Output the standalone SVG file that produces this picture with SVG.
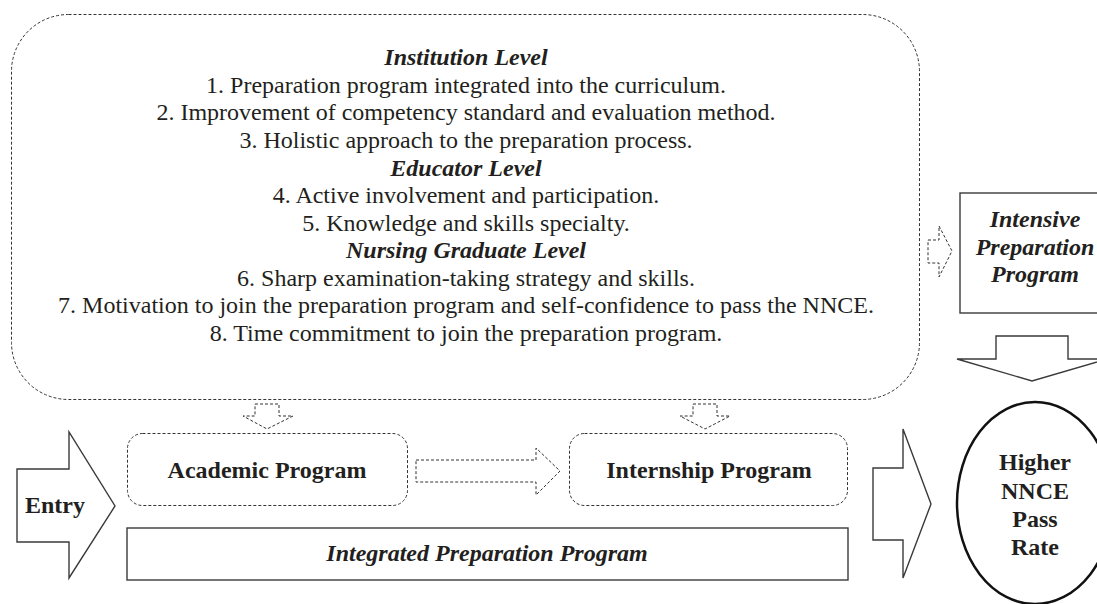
<svg xmlns="http://www.w3.org/2000/svg" width="1097" height="604" viewBox="0 0 1097 604">
  <style>
    .txt { font-family: "Liberation Serif", "Times New Roman", serif; font-size: 24px; fill: #231f20; text-anchor: middle; }
    .hd { font-weight: bold; font-style: italic; }
    .b { font-weight: bold; }
    .dash { fill: #fff; stroke: #333; stroke-width: 1; stroke-dasharray: 3 2; }
    .solid { fill: #fff; stroke: #3a3a3a; stroke-width: 1.4; }
  </style>
  <rect width="1097" height="604" fill="#fff"/>

  <!-- factors box -->
  <g id="factors">
    <rect class="dash" x="11.5" y="14.5" width="908" height="385" rx="57" ry="57"/>
    <text class="txt hd" x="466" y="65">Institution Level</text>
    <text class="txt" x="466" y="93">1. Preparation program integrated into the curriculum.</text>
    <text class="txt" x="466" y="120">2. Improvement of competency standard and evaluation method.</text>
    <text class="txt" x="466" y="148">3. Holistic approach to the preparation process.</text>
    <text class="txt hd" x="466" y="176">Educator Level</text>
    <text class="txt" x="466" y="203">4. Active involvement and participation.</text>
    <text class="txt" x="466" y="231">5. Knowledge and skills specialty.</text>
    <text class="txt hd" x="466" y="258">Nursing Graduate Level</text>
    <text class="txt" x="466" y="286">6. Sharp examination-taking strategy and skills.</text>
    <text class="txt" x="466" y="313">7. Motivation to join the preparation program and self-confidence to pass the NNCE.</text>
    <text class="txt" x="466" y="341">8. Time commitment to join the preparation program.</text>
  </g>

  <g id="intensive">
    <rect class="solid" x="960" y="193" width="152" height="120"/>
    <text class="txt hd" x="1035" y="227">Intensive</text>
    <text class="txt hd" x="1035" y="255">Preparation</text>
    <text class="txt hd" x="1035" y="282">Program</text>
  </g>

  <g id="entry">
    <polygon class="solid" points="17,469 69,469 69,432 115,506 69,578 69,542 17,542"/>
    <text class="txt b" x="55" y="513">Entry</text>
  </g>

  <g id="academic">
    <rect class="dash" x="127.5" y="433.5" width="280" height="72" rx="15" ry="15"/>
    <text class="txt b" x="267" y="478">Academic Program</text>
  </g>

  <g id="internship">
    <rect class="dash" x="569.5" y="433.5" width="278" height="72" rx="15" ry="15"/>
    <text class="txt b" x="709" y="478">Internship Program</text>
  </g>

  <g id="integrated">
    <rect class="solid" x="127" y="528" width="721" height="52"/>
    <text class="txt hd" x="487" y="561">Integrated Preparation Program</text>
  </g>

  <g id="outcome">
    <ellipse cx="1035" cy="503" rx="78" ry="101" fill="#fff" stroke="#111" stroke-width="2.5"/>
    <text class="txt b" x="1035" y="470">Higher</text>
    <text class="txt b" x="1035" y="499">NNCE</text>
    <text class="txt b" x="1035" y="527">Pass</text>
    <text class="txt b" x="1035" y="555">Rate</text>
  </g>

  <!-- block arrows linking the stages -->
  <g id="connectors">
    <polygon class="dash" points="255,404 279,404 279,416 293,416 267,429 243,416 255,416"/>
    <polygon class="dash" points="693,404 717,404 717,416 730,416 705,429 680,416 693,416"/>
    <polygon class="dash" points="416,460 536,460 536,448 560,471 536,495 536,482 416,482"/>
    <polygon class="dash" points="928,240 939,240 939,226 952,251 939,277 939,263 928,263"/>
    <polygon class="solid" points="996,336 1068,336 1068,359 1107,359 1032,381 957,359 996,359"/>
    <polygon class="solid" points="873,468 903,468 903,429 931,504 903,578 903,540 873,540"/>
  </g>
</svg>
